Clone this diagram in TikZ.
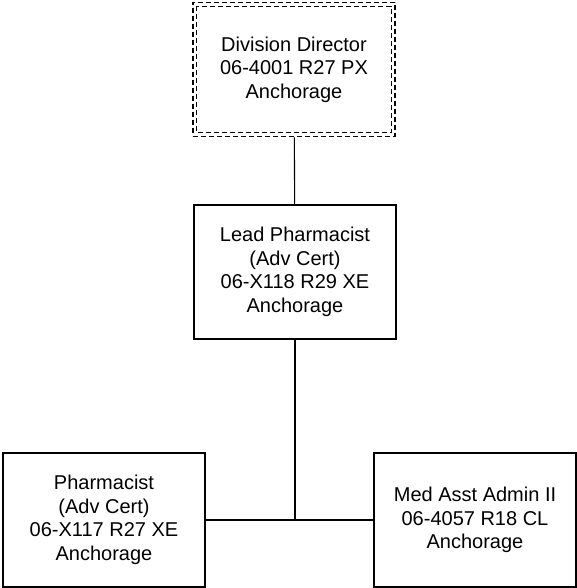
\documentclass[tikz,border=0pt]{standalone}
\usepackage{fontspec}
\setmainfont{Liberation Sans}
\usetikzlibrary{positioning}

\begin{document}
\begin{tikzpicture}[x=1pt,y=-1pt,line width=1.1pt,
	every node/.style={align=center,font=\fontsize{20}{23.5}\selectfont},
	post/.style={draw,minimum width=202pt,minimum height=134pt,inner sep=0pt},
	vacant/.style={post,line width=1.7pt,dash pattern=on 5pt off 3pt}]
	\useasboundingbox (0,0) rectangle (577,588);
	\node[vacant] (director) at (294,69.5) {Division Director\\06-4001 R27 PX\\Anchorage};
	\draw[line width=1.1pt,dash pattern=on 5pt off 3pt]
		([shift={(4.5,4.5)}]director.north west) rectangle ([shift={(-4.5,-4.5)}]director.south east);
	\node[post] (lead) at (295,272) {Lead Pharmacist\\(Adv Cert)\\06-X118 R29 XE\\Anchorage};
	\node[post] (pharm) at (104,520) {Pharmacist\\(Adv Cert)\\06-X117 R27 XE\\Anchorage};
	\node[post] (medasst) at (475,520) {Med Asst Admin II\\06-4057 R18 CL\\Anchorage};
	\coordinate (joint) at (lead.south |- pharm.east);
	\draw (director) -- (lead);
	\draw (lead) -- (joint);
	\draw (pharm.east) -- (medasst.west);
\end{tikzpicture}
\end{document}
